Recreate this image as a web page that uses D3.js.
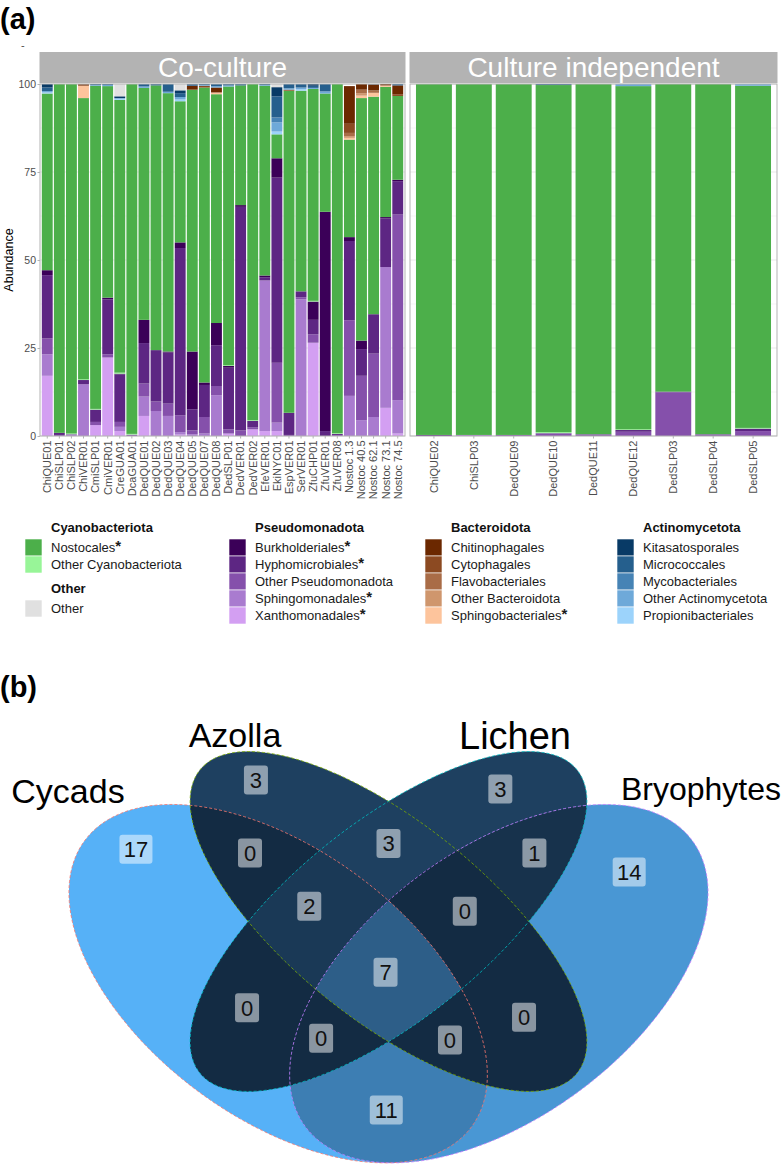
<!DOCTYPE html>
<html><head><meta charset="utf-8">
<script src="https://cdn.jsdelivr.net/npm/d3@7"></script>
<style>
body{margin:0;background:#fff}
svg{display:block}
text{font-family:"Liberation Sans",Arial,Helvetica,sans-serif}
</style>
</head><body>
<svg id="c" width="781" height="1175"></svg>
<script>
// ---------------- DATA ----------------
const coSamples=["ChiQUE01","ChiSLP01","ChiSLP02","ChiVER01","CmiSLP01","CmiVER01","CreGUA01","DcaGUA01","DedQUE01","DedQUE02","DedQUE03","DedQUE04","DedQUE05","DedQUE07","DedQUE08","DedSLP01","DedVER01","DedVER02","EfeVER01","EkiNYC01","EspVER01","SerVER01","ZfuCHP01","ZfuVER01","ZfuVER08","Nostoc 1.3","Nostoc 40.5","Nostoc 62.1","Nostoc 73.1","Nostoc 74.5"];
const ciSamples=["ChiQUE02","ChiSLP03","DedQUE09","DedQUE10","DedQUE11","DedQUE12","DedSLP03","DedSLP04","DedSLP05"];
const panelNames=["Co-culture","Culture independent"];

// relative abundance (%) per taxon, co-culture samples then culture-independent samples
const Xanthomonadales=[17.1,0,0,0,3.1,22.3,1.4,0,5.7,0, 0,0.4,0,0,0,0.7,0,1.9,1.4,1.4, 0,0,26.5,0,0,0,0,0,8.0,0.7, 0,0,0,0,0,0,0,0,0];
const Sphingomonadales=[6.1,0,0.3,14.7,0,0,1.2,0,5.5,7.1, 5.7,0.7,0.5,0.7,11.6,0,0,0,42.8,2.4, 0,38.8,0,0,0,11.4,4.5,5.4,40.0,9.5, 0,0.3,0,0,0,0,0,0,0];
const OtherPseudomonadota=[4.5,0.3,0.2,0,0.9,0.9,1.4,0.4,3.7,2.7, 3.5,4.8,1.1,4.7,2.6,1.2,1.6,0.6,0,17.0, 0.3,0.6,2.4,0,0.3,21.5,12.6,18.0,0,52.7, 0,0,0.3,0.8,0.5,1.2,12.4,0.5,1.4];
const Hyphomicrobiales=[18.0,0.6,0,1.2,3.5,15.6,13.5,0,11.5,14.6, 14.5,47.5,6.0,9.1,11.6,17.5,63.5,1.8,0.9,52.6, 6.3,1.7,4.1,1.4,0.3,22.5,7.6,11.2,13.8,9.5, 0.3,0,0,0,0,0.5,0.2,0,0.7];
const Burkholderiales=[1.4,0,0,0,0,0.5,0.2,0,6.6,0, 0.3,1.6,16.4,0.7,6.3,0.5,0.5,0,0.5,5.5, 0,0,5.2,62.3,0,1.1,2.4,0,0.4,0.4, 0,0,0,0,0,0,0,0,0];
const OtherCyanobacteriota=[0,0,0.2,0.2,0.2,0,0.3,0.2,0,0, 0,0,0,0,0,0.2,0,0.2,0,0, 0,0,0.2,0,0.2,0,0,0,0,0, 0,0,0,0.3,0,0.2,0,0,0.2];
const Nostocales=[50.2,99.1,99.3,79.9,91.8,60.1,77.5,99.4,65.9,75.2, 73.4,40.1,74.4,83.8,65.0,79.2,34.0,95.5,53.9,6.8, 91.5,57.0,60.2,33.6,99.2,27.7,68.9,61.8,37.0,23.8, 99.7,99.7,99.7,98.6,99.5,97.5,87.4,99.5,97.2];
const Sphingobacteriales=[0,0,0,3.5,0,0,0,0,0,0, 0,0,0,0,0.5,0,0,0,0,0, 0,0,0,0,0,0.5,0.7,1.1,0.4,0, 0,0,0,0,0,0,0,0,0];
const OtherBacteroidota=[0,0,0,0,0,0,0,0,0,0, 0,0,0,0,0,0,0,0,0,0, 0,0,0,0,0,0.5,0.7,0,0,0, 0,0,0,0,0,0,0,0,0];
const Flavobacteriales=[0,0,0,0,0,0,0,0,0,0, 0,0,0,0,0,0,0,0,0,0, 0,0,0,0,0,0.9,1.0,0.7,0,0, 0,0,0,0,0,0,0,0,0];
const Cytophagales=[0,0,0,0.3,0,0,0,0,0,0, 0,0,0,0.5,0,0,0,0,0,0, 0.3,0,0,0,0,2.6,0,0,0,0.5, 0,0,0,0,0,0,0,0,0];
const Chitinophagales=[0,0,0,0.2,0,0,0,0,0,0, 0,0,1.1,0,1.4,0,0,0,0,0, 0,0,0,0,0,10.7,1.6,1.7,0.4,2.5, 0,0,0,0,0,0,0,0,0];
const Propionibacteriales=[0.3,0,0,0,0,0,0.3,0,0,0, 0,0.5,0,0,0,0,0,0,0,0.8, 0,0.4,0,0,0,0,0,0,0,0, 0,0,0,0,0,0,0,0,0];
const OtherActinomycetota=[0.4,0,0,0,0.2,0.3,0.2,0,0.4,0, 0.4,0.7,0,0.2,0.4,0.3,0,0,0.2,2.6, 0.4,0.5,0.3,0.6,0,0,0,0,0,0, 0,0,0,0,0,0.6,0,0,0.5];
const Mycobacteriales=[0,0,0,0,0,0,0,0,0,0, 0,0,0,0,0,0,0,0,0,1.4, 0,0,0,0,0,0,0,0,0,0, 0,0,0,0,0,0,0,0,0];
const Micrococcales=[1.0,0,0,0,0.3,0.3,0,0,0.7,0.4, 2.2,1.1,0.3,0.3,0.6,0.4,0.4,0,0.3,6.0, 1.2,1.0,0.6,2.1,0,0,0,0.1,0,0.4, 0,0,0,0.3,0,0,0,0,0];
const Kitasatosporales=[1.0,0,0,0,0,0,0.5,0,0,0, 0,0.8,0.2,0,0,0,0,0,0,2.6, 0,0,0.5,0,0,0,0,0,0,0, 0,0,0,0,0,0,0,0,0];
const Other=[0,0,0,0,0,0,3.5,0,0,0, 0,1.8,0,0,0,0,0,0,0,0.9, 0,0,0,0,0,0,0,0,0,0, 0,0,0,0,0,0,0,0,0];

const yTicks=[0,25,50,75,100];

// Venn (b)
const vennSets=["Cycads","Azolla","Lichen","Bryophytes"];
const vennRegions=[["Cycads"],["Azolla"],["Lichen"],["Bryophytes"],
  ["Cycads","Azolla"],["Cycads","Lichen"],["Cycads","Bryophytes"],["Azolla","Lichen"],["Azolla","Bryophytes"],["Lichen","Bryophytes"],
  ["Cycads","Azolla","Lichen"],["Cycads","Azolla","Bryophytes"],["Cycads","Lichen","Bryophytes"],["Azolla","Lichen","Bryophytes"],
  ["Cycads","Azolla","Lichen","Bryophytes"]];
const vennCounts=[17,3,3,14, 0,0,11,3,0,1, 2,0,0,0, 7];

// ---------------- STYLE / LAYOUT ----------------
const taxa=[ // stacking order bottom -> top
 {name:"Xanthomonadales",values:Xanthomonadales,color:"#d39ff2"},
 {name:"Sphingomonadales",values:Sphingomonadales,color:"#a97bcf"},
 {name:"Other Pseudomonadota",values:OtherPseudomonadota,color:"#8550ab"},
 {name:"Hyphomicrobiales",values:Hyphomicrobiales,color:"#5d2683"},
 {name:"Burkholderiales",values:Burkholderiales,color:"#3b0058"},
 {name:"Other Cyanobacteriota",values:OtherCyanobacteriota,color:"#98f598"},
 {name:"Nostocales",values:Nostocales,color:"#4caf4a"},
 {name:"Sphingobacteriales",values:Sphingobacteriales,color:"#fdc49c"},
 {name:"Other Bacteroidota",values:OtherBacteroidota,color:"#cf966d"},
 {name:"Flavobacteriales",values:Flavobacteriales,color:"#a96c47"},
 {name:"Cytophagales",values:Cytophagales,color:"#8c4a22"},
 {name:"Chitinophagales",values:Chitinophagales,color:"#6b2800"},
 {name:"Propionibacteriales",values:Propionibacteriales,color:"#9cd3fb"},
 {name:"Other Actinomycetota",values:OtherActinomycetota,color:"#6ea9d9"},
 {name:"Mycobacteriales",values:Mycobacteriales,color:"#4683b5"},
 {name:"Micrococcales",values:Micrococcales,color:"#255f8d"},
 {name:"Kitasatosporales",values:Kitasatosporales,color:"#083a66"},
 {name:"Other",values:Other,color:"#e0e0e0"}
];
const colorOf=Object.fromEntries(taxa.map(t=>[t.name,t.color]));
const keys=taxa.map(t=>t.name);

const svg=d3.select("#c");
const axisGrey="#4d4d4d", borderGrey="#b3b3b3", gridGrey="#e3e3e3";

svg.append("text").attr("x",0).attr("y",29).attr("font-size",29).attr("font-weight","bold").text("(a)");
svg.append("text").attr("x",21).attr("y",49).attr("font-size",11).attr("fill",axisGrey).text("-");

const yS=d3.scaleLinear().domain([0,100]).range([436,84]);

const panels=[
 {name:panelNames[0],samples:coSamples,offset:0,x0:40,x1:405},
 {name:panelNames[1],samples:ciSamples,offset:coSamples.length,x0:410,x1:777}
];

panels.forEach(p=>{
  const xS=d3.scaleBand().domain(p.samples).range([p.x0,p.x1]).paddingInner(0.1).paddingOuter(0.15);
  const g=svg.append("g");
  g.append("rect").attr("x",p.x0).attr("y",yS(100)).attr("width",p.x1-p.x0).attr("height",yS(0)-yS(100)).attr("fill","#fff");
  const minor=[12.5,37.5,62.5,87.5];
  g.selectAll(".mn").data(minor).join("line").attr("x1",p.x0).attr("x2",p.x1).attr("y1",d=>yS(d)).attr("y2",d=>yS(d)).attr("stroke",gridGrey).attr("stroke-width",0.4);
  g.selectAll(".mj").data(yTicks).join("line").attr("x1",p.x0).attr("x2",p.x1).attr("y1",d=>yS(d)).attr("y2",d=>yS(d)).attr("stroke",gridGrey).attr("stroke-width",0.8);
  const rows=p.samples.map((s,i)=>{const r={sample:s};taxa.forEach(t=>r[t.name]=t.values[p.offset+i]);return r;});
  const stacked=d3.stack().keys(keys)(rows);
  g.selectAll("g.layer").data(stacked).join("g").attr("class","layer").attr("fill",d=>colorOf[d.key])
   .selectAll("rect").data(d=>d.filter(v=>v[1]-v[0]>0)).join("rect")
   .attr("x",d=>xS(d.data.sample)).attr("width",xS.bandwidth())
   .attr("y",d=>yS(d[1])).attr("height",d=>yS(d[0])-yS(d[1]));
  g.append("rect").attr("x",p.x0).attr("y",yS(100)).attr("width",p.x1-p.x0).attr("height",yS(0)-yS(100)).attr("fill","none").attr("stroke",borderGrey).attr("stroke-width",1);
  g.append("rect").attr("x",p.x0-0.5).attr("y",52).attr("width",p.x1-p.x0+1).attr("height",31).attr("fill",borderGrey);
  g.append("text").attr("x",(p.x0+p.x1)/2).attr("y",77).attr("text-anchor","middle").attr("fill","#fff").attr("font-size",28).text(p.name);
  const xa=g.append("g").attr("transform",`translate(0,${yS(0)})`).call(d3.axisBottom(xS).tickSize(2.5).tickSizeOuter(0));
  xa.select(".domain").remove();
  xa.selectAll(".tick line").attr("stroke",borderGrey);
  xa.selectAll(".tick text").attr("font-size",11).attr("fill",axisGrey).attr("font-family",'"Liberation Sans",Arial,sans-serif')
    .attr("transform","rotate(-90)").attr("text-anchor","end").attr("x",-4.5).attr("y",0).attr("dy","0.35em");
});

const ya=svg.append("g").attr("transform","translate(40,0)").call(d3.axisLeft(yS).tickValues(yTicks).tickSize(2.5));
ya.select(".domain").remove();
ya.selectAll(".tick line").attr("stroke",borderGrey);
ya.selectAll(".tick text").attr("font-size",10.5).attr("fill",axisGrey).attr("font-family",'"Liberation Sans",Arial,sans-serif').attr("x",-4);
svg.append("text").attr("transform","translate(13,260) rotate(-90)").attr("text-anchor","middle").attr("font-size",12.5).text("Abundance");

// ---------------- LEGEND ----------------
const legendGroups=[
 {title:"Cyanobacteriota",x:25,y:539,items:[["Nostocales",true],["Other Cyanobacteriota",false]]},
 {title:"Other",x:25,y:600,items:[["Other",false]]},
 {title:"Pseudomonadota",x:229,y:539,items:[["Burkholderiales",true],["Hyphomicrobiales",true],["Other Pseudomonadota",false],["Sphingomonadales",true],["Xanthomonadales",true]]},
 {title:"Bacteroidota",x:425,y:539,items:[["Chitinophagales",false],["Cytophagales",false],["Flavobacteriales",false],["Other Bacteroidota",false],["Sphingobacteriales",true]]},
 {title:"Actinomycetota",x:617,y:539,items:[["Kitasatosporales",false],["Micrococcales",false],["Mycobacteriales",false],["Other Actinomycetota",false],["Propionibacteriales",false]]}
];
const keyS=17;
legendGroups.forEach(gr=>{
  const g=svg.append("g");
  g.append("text").attr("x",gr.x+26).attr("y",gr.y-7).attr("font-size",13).attr("font-weight","bold").attr("fill","#111").text(gr.title);
  gr.items.forEach((it,i)=>{
    g.append("rect").attr("x",gr.x).attr("y",gr.y+i*keyS).attr("width",keyS).attr("height",keyS).attr("fill",colorOf[it[0]]).attr("stroke","#fff").attr("stroke-width",0.6);
    const t=g.append("text").attr("x",gr.x+26).attr("y",gr.y+i*keyS+keyS/2).attr("dy","0.36em").attr("font-size",13).attr("fill","#1a1a1a").text(it[0]);
    if(it[1]) t.append("tspan").attr("font-weight","bold").attr("font-size",15).attr("dy","-0.05em").text("*");
  });
});

// ---------------- VENN ----------------
svg.append("text").attr("x",0).attr("y",697).attr("font-size",29).attr("font-weight","bold").text("(b)");

const vx=d3.scaleLinear().domain([0,1]).range([18.2,758.8]);
const vy=d3.scaleLinear().domain([0,1]).range([1283.1,648.7]);
const shapes={
 Cycads:{cx:0.351,cy:0.472,a:0.347,b:0.198,rot:135,stroke:"#F8766D"},
 Azolla:{cx:0.5,cy:0.57,a:0.35,b:0.145,rot:135,stroke:"#7CAE00"},
 Lichen:{cx:0.5,cy:0.57,a:0.35,b:0.145,rot:45,stroke:"#00BFC4"},
 Bryophytes:{cx:0.649,cy:0.472,a:0.347,b:0.198,rot:45,stroke:"#C77CFF"}
};
// label anchor points (npc-space layout, one per region)
const labelPos=[[0.159,0.684],[0.321,0.793],[0.651,0.779],[0.825,0.648],
  [0.313,0.678],[0.309,0.434],[0.497,0.273],[0.500,0.693],[0.683,0.419],[0.697,0.678],
  [0.393,0.594],[0.583,0.383],[0.409,0.386],[0.603,0.586],[0.496,0.490]];

function ellPts(s){
  const c=Math.cos(s.rot*Math.PI/180), sn=Math.sin(s.rot*Math.PI/180);
  return d3.range(0,360,1.5).map(t=>{const r=t*Math.PI/180;const ex=s.a*Math.cos(r), ey=s.b*Math.sin(r);
    return [vx(s.cx+ex*c-ey*sn), vy(s.cy+ex*sn+ey*c)];});
}
const line=d3.line().curve(d3.curveLinearClosed);
const defs=svg.append("defs");
vennSets.forEach((n,i)=>{defs.append("clipPath").attr("id","vc"+i).append("path").attr("d",line(ellPts(shapes[n])));});
const fillS=d3.scaleLinear().domain([0,d3.max(vennCounts)]).range(["#132B43","#56B1F7"]).interpolate(d3.interpolateLab);

const vg=svg.append("g");
const order=d3.range(vennRegions.length).sort((a,b)=>vennRegions[a].length-vennRegions[b].length||a-b);
order.forEach(ri=>{
  const mem=vennRegions[ri];
  let cur=vg;
  mem.slice(1).forEach(m=>{cur=cur.append("g").attr("clip-path",`url(#vc${vennSets.indexOf(m)})`);});
  cur.append("path").attr("d",line(ellPts(shapes[mem[0]]))).attr("fill",fillS(vennCounts[ri]));
});
vennSets.forEach(n=>{
  vg.append("path").attr("d",line(ellPts(shapes[n]))).attr("fill","none").attr("stroke",shapes[n].stroke).attr("stroke-width",0.8).attr("stroke-dasharray","3,2");
});

const lg=svg.append("g");
vennRegions.forEach((r,ri)=>{
  const cx=vx(labelPos[ri][0]), cy=vy(labelPos[ri][1]);
  const txt=String(vennCounts[ri]);
  const w=txt.length>1?33:24, h=29;
  lg.append("rect").attr("x",cx-w/2).attr("y",cy-h/2).attr("width",w).attr("height",h).attr("rx",3).attr("fill","#fff").attr("fill-opacity",0.5);
  lg.append("text").attr("x",cx).attr("y",cy).attr("dy","0.36em").attr("text-anchor","middle").attr("font-size",22).attr("fill","#111").text(txt);
});

const setLabels=[
 {name:"Cycads",x:68,y:803,size:34},
 {name:"Azolla",x:235,y:747,size:34},
 {name:"Lichen",x:515,y:749,size:38},
 {name:"Bryophytes",x:701,y:800,size:32}
];
svg.selectAll(".setlab").data(setLabels).join("text").attr("x",d=>d.x).attr("y",d=>d.y).attr("text-anchor","middle")
  .attr("font-size",d=>d.size).attr("fill","#000").text(d=>d.name);
</script>
</body></html>
